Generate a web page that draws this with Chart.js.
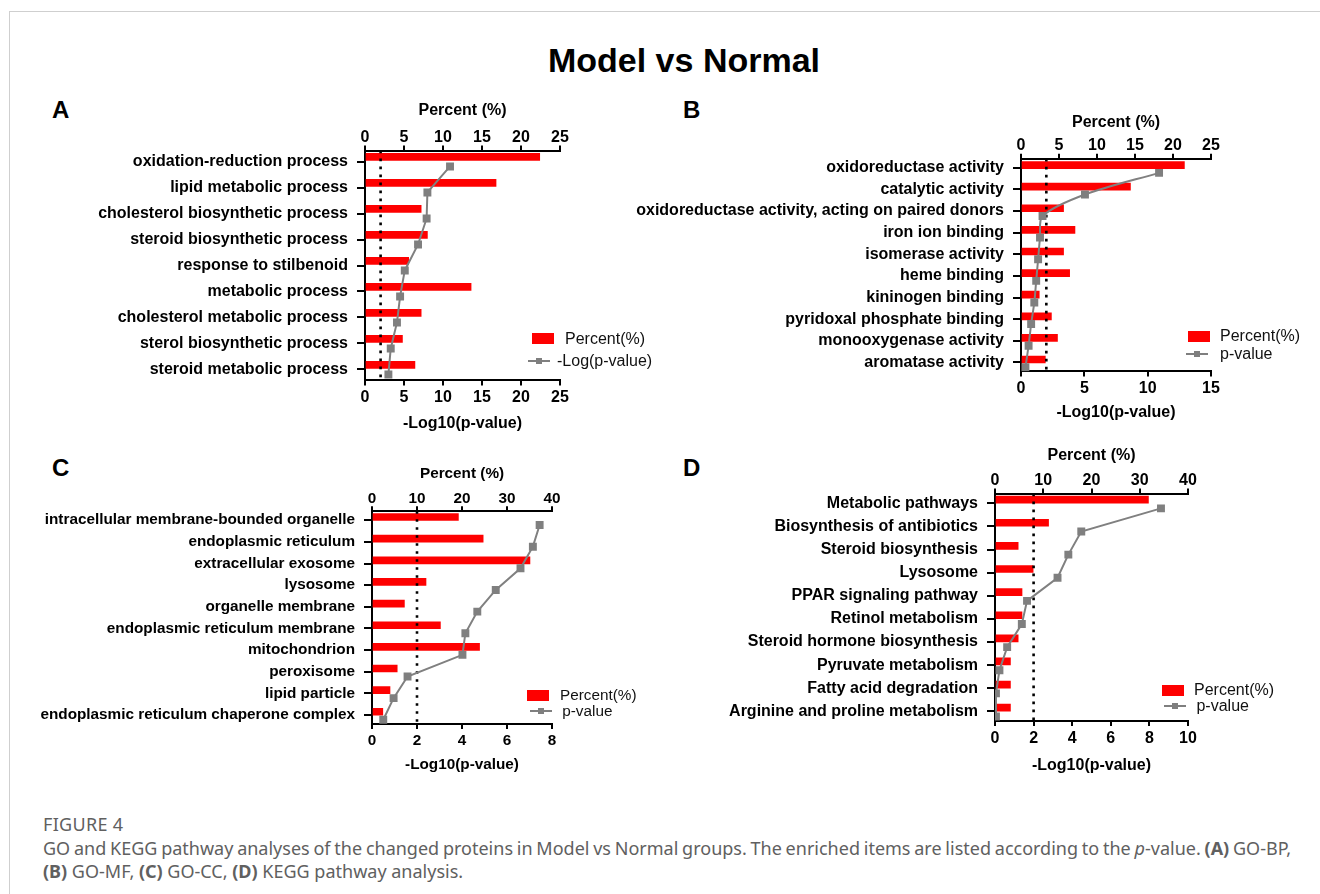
<!DOCTYPE html>
<html>
<head>
<meta charset="utf-8">
<script src="https://cdn.jsdelivr.net/npm/chart.js@4.4.0/dist/chart.umd.min.js"></script>
<style>
html,body{margin:0;padding:0;background:#fff;}
body{width:1320px;height:894px;position:relative;overflow:hidden;font-family:"Liberation Sans",Arial,sans-serif;color:#000;}
.frame{position:absolute;left:9px;top:11px;width:1400px;height:1000px;border-left:1px solid #cfcfcf;border-top:1px solid #cfcfcf;}
.title{position:absolute;left:0;width:1368px;top:38px;text-align:center;font-weight:bold;font-size:34px;line-height:44px;}
.plabel{position:absolute;font-weight:bold;font-size:24px;line-height:28px;}
.lg{position:absolute;line-height:20px;color:#111;white-space:pre;}
.lgbox{position:absolute;background:#fe0000;}
.lgline{position:absolute;background:#7f7f7f;height:2px;}
.lgpt{position:absolute;background:#7f7f7f;width:6px;height:6px;}
.fig{position:absolute;left:43px;font-family:"Noto Sans",sans-serif;color:#606060;white-space:nowrap;}
.cell{position:absolute;}
</style>
</head>
<body>
<div class="frame"></div>
<div class="title">Model vs Normal</div>
<div class="plabel" style="left:52px;top:96px;">A</div>
<div class="plabel" style="left:683px;top:96px;">B</div>
<div class="plabel" style="left:52px;top:454px;">C</div>
<div class="plabel" style="left:683px;top:454px;">D</div>
<div class="fig" style="top:812px;font-size:18px;line-height:24px;letter-spacing:0.3px;">FIGURE 4</div>
<div class="fig" style="top:837px;font-size:18px;line-height:23px;"><span style="word-spacing:-0.9px;">GO and KEGG pathway analyses of the changed proteins in Model vs Normal groups. The enriched items are listed according to the <i>p</i>-value. <b>(A)</b> GO-BP,</span><br><b>(B)</b> GO-MF, <b>(C)</b> GO-CC, <b>(D)</b> KEGG pathway analysis.</div>
<script>
// ---------- DATA ----------
const A_CATS = ['oxidation-reduction process','lipid metabolic process','cholesterol biosynthetic process','steroid biosynthetic process','response to stilbenoid','metabolic process','cholesterol metabolic process','sterol biosynthetic process','steroid metabolic process'];
const A_PERCENT = [22.4, 16.8, 7.2, 8.0, 5.6, 13.6, 7.2, 4.8, 6.4];
const A_LOGP = [10.9, 8.0, 7.9, 6.8, 5.1, 4.5, 4.1, 3.3, 3.0];
const A_PCT_TICKS = [0, 5, 10, 15, 20, 25];
const A_LOGP_TICKS = [0, 5, 10, 15, 20, 25];

const B_CATS = ['oxidoreductase activity','catalytic activity','oxidoreductase activity, acting on paired donors','iron ion binding','isomerase activity','heme binding','kininogen binding','pyridoxal phosphate binding','monooxygenase activity','aromatase activity'];
const B_PERCENT = [21.5, 14.4, 5.6, 7.1, 5.6, 6.4, 2.4, 4.0, 4.8, 3.2];
const B_LOGP = [10.9, 5.05, 1.7, 1.5, 1.35, 1.2, 1.05, 0.8, 0.6, 0.35];
const B_PCT_TICKS = [0, 5, 10, 15, 20, 25];
const B_LOGP_TICKS = [0, 5, 10, 15];

const C_CATS = ['intracellular membrane-bounded organelle','endoplasmic reticulum','extracellular exosome','lysosome','organelle membrane','endoplasmic reticulum membrane','mitochondrion','peroxisome','lipid particle','endoplasmic reticulum chaperone complex'];
const C_PERCENT = [19.2, 24.7, 35.1, 12.0, 7.2, 15.2, 23.9, 5.6, 4.0, 2.4];
const C_LOGP = [7.45, 7.15, 6.6, 5.5, 4.68, 4.15, 4.02, 1.58, 0.96, 0.5];
const C_PCT_TICKS = [0, 10, 20, 30, 40];
const C_LOGP_TICKS = [0, 2, 4, 6, 8];

const D_CATS = ['Metabolic pathways','Biosynthesis of antibiotics','Steroid biosynthesis','Lysosome','PPAR signaling pathway','Retinol metabolism','Steroid hormone biosynthesis','Pyruvate metabolism','Fatty acid degradation','Arginine and proline metabolism'];
const D_PERCENT = [31.8, 11.1, 4.8, 7.9, 5.6, 5.6, 4.8, 3.2, 3.2, 3.2];
const D_LOGP = [8.6, 4.47, 3.8, 3.24, 1.66, 1.39, 0.63, 0.23, 0.05, 0.05];
const D_PCT_TICKS = [0, 10, 20, 30, 40];
const D_LOGP_TICKS = [0, 2, 4, 6, 8, 10];

const THRESHOLD = 2; // -log10(0.01)
const SERIES_NAMES = ['Percent(%)'];

// ---------- LAYOUT / STYLE ----------
const FAM = '"Liberation Sans", Arial, sans-serif';
const PANELS = [
  {cats:A_CATS, pct:A_PERCENT, logp:A_LOGP, pctTicks:A_PCT_TICKS, logTicks:A_LOGP_TICKS, lineName:'-Log(p-value)', fs:16,
   canvasLeft:20, plotL:365, plotR:560, plotT:150.5, plotB:380, topGap:40, botGap:43, barOff:-0.18, ptOff:0.19, tension:0,
   lg:{boxX:532, y1:338.5, textX:565, lineX:528, y2:360.5, textX2:557}},
  {cats:B_CATS, pct:B_PERCENT, logp:B_LOGP, pctTicks:B_PCT_TICKS, logTicks:B_LOGP_TICKS, lineName:'p-value', fs:16,
   canvasLeft:620, plotL:1021, plotR:1211, plotT:158.5, plotB:370.7, topGap:36.2, botGap:41, barOff:-0.13, ptOff:0.23, tension:0.3,
   lg:{boxX:1188, y1:336, textX:1220, lineX:1186, y2:353.5, textX2:1220}},
  {cats:C_CATS, pct:C_PERCENT, logp:C_LOGP, pctTicks:C_PCT_TICKS, logTicks:C_LOGP_TICKS, lineName:' p-value', fs:15.3,
   canvasLeft:20, plotL:372, plotR:552, plotT:511, plotB:724.3, topGap:37, botGap:40.7, barOff:-0.15, ptOff:0.22, tension:0,
   lg:{boxX:527, y1:695, textX:560, lineX:530, y2:710.7, textX2:558}},
  {cats:D_CATS, pct:D_PERCENT, logp:D_LOGP, pctTicks:D_PCT_TICKS, logTicks:D_LOGP_TICKS, lineName:' p-value', fs:16,
   canvasLeft:620, plotL:995, plotR:1188, plotT:493.3, plotB:720.7, topGap:38, botGap:44.3, barOff:-0.16, ptOff:0.22, tension:0,
   lg:{boxX:1162, y1:690, textX:1194, lineX:1164, y2:706, textX2:1192}}
];

function addEl(cls, style, text) {
  const d = document.createElement('div');
  d.className = cls;
  d.style.cssText = style;
  if (text !== undefined) d.textContent = text;
  document.body.appendChild(d);
  return d;
}

function makePanel(cfg) {
  const n = cfg.cats.length;
  const pad = 0.42;
  const lh = cfg.fs * 1.2;
  const topH = cfg.topGap + lh / 2;
  const botH = cfg.botGap + lh / 2;
  const canvasTop = cfg.plotT - topH;
  const canvasBot = cfg.plotB + botH;
  const rightPad = 40;
  const W = Math.round(cfg.plotR + rightPad - cfg.canvasLeft);
  const H = canvasBot - canvasTop;
  const yW = cfg.plotL - cfg.canvasLeft;

  const holder = addEl('cell', `left:${cfg.canvasLeft}px;top:${canvasTop}px;width:${W}px;height:${H}px;`);
  const canvas = document.createElement('canvas');
  canvas.width = W; canvas.height = Math.round(H);
  canvas.style.width = W + 'px'; canvas.style.height = Math.round(H) + 'px';
  holder.appendChild(canvas);

  const boldFont = {family: FAM, size: cfg.fs, weight: 'bold'};
  const tickFont = {family: FAM, size: cfg.fs, weight: 'bold', lineHeight: 1};
  const axisLine = {display: true, color: '#000', width: 2};

  new Chart(canvas, {
    type: 'bar',
    data: {
      datasets: [
        {type: 'bar', label: SERIES_NAMES[0], indexAxis: 'y', xAxisID: 'x2', yAxisID: 'y',
         data: cfg.pct.map((v, i) => ({x: v, y: i + cfg.barOff})),
         backgroundColor: '#fe0000', borderWidth: 0, barThickness: 7, order: 3},
        {type: 'line', label: 'threshold', xAxisID: 'x', yAxisID: 'y',
         data: [{x: THRESHOLD, y: -pad}, {x: THRESHOLD, y: n - 1 + pad}],
         borderColor: '#000', borderWidth: 2.6, borderDash: [2.6, 5.4], borderCapStyle: 'butt',
         pointRadius: 0, fill: false, order: 2},
        {type: 'line', label: cfg.lineName, xAxisID: 'x', yAxisID: 'y',
         data: cfg.logp.map((v, i) => ({x: v, y: i + cfg.ptOff})),
         borderColor: '#808080', borderWidth: 2, tension: cfg.tension, cubicInterpolationMode: 'default',
         pointStyle: 'rect', pointRadius: 5.6, pointBackgroundColor: '#7f7f7f', pointBorderColor: '#7f7f7f',
         pointBorderWidth: 0, fill: false, order: 1}
      ]
    },
    options: {
      responsive: false,
      animation: false,
      events: [],
      indexAxis: 'y',
      layout: {padding: {left: 0, top: 0, right: rightPad, bottom: 0}},
      plugins: {legend: {display: false}, tooltip: {enabled: false}},
      scales: {
        y: {
          type: 'linear', position: 'left', reverse: true, offset: false, min: -pad, max: n - 1 + pad,
          afterBuildTicks: s => { s.ticks = cfg.cats.map((c, i) => ({value: i})); },
          afterFit: s => { s.width = yW; },
          ticks: {callback: v => cfg.cats[v], font: boldFont, color: '#000', padding: 9, autoSkip: false},
          grid: {offset: false, drawOnChartArea: false, drawTicks: true, tickLength: 8, color: '#000', lineWidth: 2},
          border: axisLine
        },
        x2: {
          type: 'linear', position: 'top', offset: false, beginAtZero: true,
          min: cfg.pctTicks[0], max: cfg.pctTicks[cfg.pctTicks.length - 1],
          afterBuildTicks: s => { s.ticks = cfg.pctTicks.map(v => ({value: v})); },
          afterFit: s => { s.height = topH; },
          title: {display: true, text: 'Percent (%)', font: boldFont, color: '#000', padding: 0},
          ticks: {font: tickFont, color: '#000', padding: 0, maxRotation: 0, autoSkip: false},
          grid: {offset: false, drawOnChartArea: false, drawTicks: true, tickLength: 5, color: '#000', lineWidth: 2},
          border: axisLine
        },
        x: {
          type: 'linear', position: 'bottom', offset: false,
          min: cfg.logTicks[0], max: cfg.logTicks[cfg.logTicks.length - 1],
          afterBuildTicks: s => { s.ticks = cfg.logTicks.map(v => ({value: v})); },
          afterFit: s => { s.height = botH; },
          title: {display: true, text: '-Log10(p-value)', font: boldFont, color: '#000', padding: 0},
          ticks: {font: tickFont, color: '#000', padding: 4, maxRotation: 0, autoSkip: false},
          grid: {offset: false, drawOnChartArea: false, drawTicks: true, tickLength: 5, color: '#000', lineWidth: 2},
          border: axisLine
        }
      }
    }
  });

  // legend (HTML)
  const L = cfg.lg;
  addEl('lgbox', `left:${L.boxX}px;top:${L.y1 - 5.5}px;width:22px;height:11px;`);
  addEl('lg', `left:${L.textX}px;top:${L.y1 - 10}px;font-size:${cfg.fs}px;`, SERIES_NAMES[0]);
  addEl('lgline', `left:${L.lineX}px;top:${L.y2 - 1}px;width:22px;`);
  addEl('lgpt', `left:${L.lineX + 8}px;top:${L.y2 - 3}px;`);
  addEl('lg', `left:${L.textX2}px;top:${L.y2 - 10}px;font-size:${cfg.fs}px;`, cfg.lineName);
}

PANELS.forEach(makePanel);
</script>
</body>
</html>
